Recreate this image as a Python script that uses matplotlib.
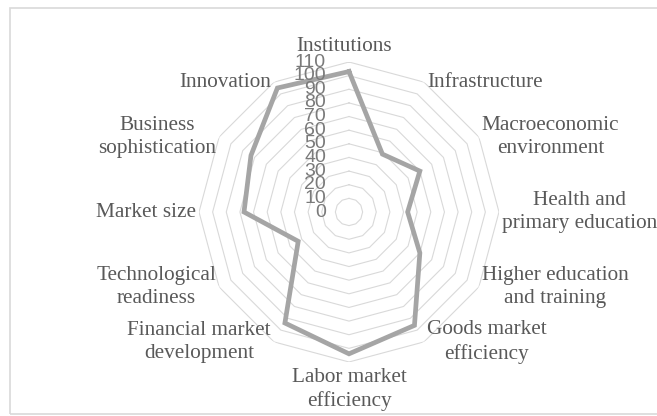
import numpy as np
import matplotlib
matplotlib.use("Agg")
import matplotlib.pyplot as plt
from matplotlib.patches import Rectangle

categories = ["Institutions", "Infrastructure", "Macroeconomic\nenvironment",
              "Health and\nprimary education", "Higher education\nand training",
              "Goods market\nefficiency", "Labor market\nefficiency",
              "Financial market\ndevelopment", "Technological\nreadiness",
              "Market size", "Business\nsophistication", "Innovation"]
values = [103, 49, 60, 43, 60, 96, 104, 94, 43, 77, 83, 105]
r_ticks = [0, 10, 20, 30, 40, 50, 60, 70, 80, 90, 100, 110]

W, H = 657, 416
fig = plt.figure(figsize=(W / 100, H / 100), dpi=100)
fig.patch.set_facecolor("white")

# outer chart-area border
fig.patches.append(Rectangle((10 / W, 2 / H), 700 / W, 406 / H, transform=fig.transFigure,
                             fill=False, edgecolor="#d9d9d9", linewidth=1.2, zorder=0))

cx, cy, R = 349, H - 212, 150
ax = fig.add_axes([(cx - R) / W, (cy - R) / H, 2 * R / W, 2 * R / H], projection="polar")
ax.set_theta_zero_location("N")
ax.set_theta_direction(-1)
ax.set_ylim(0, r_ticks[-1])
ax.grid(False)
ax.set_xticks([])
ax.set_yticks([])
ax.spines["polar"].set_visible(False)
ax.patch.set_alpha(0)

n = len(categories)
theta = np.arange(n) * 2 * np.pi / n
theta_c = np.append(theta, theta[0])

for r in r_ticks[1:]:
    ax.plot(theta_c, [r] * (n + 1), color="#d9d9d9", linewidth=0.8, zorder=1)

ax.plot(theta_c, values + values[:1], color="#a5a5a5", linewidth=3.4,
        solid_joinstyle="miter", zorder=3)

for r in r_ticks:
    ax.annotate(str(r), xy=(0, r), xytext=(-23, 0), textcoords="offset pixels",
                ha="right", va="center", fontsize=14, family="Liberation Sans",
                color="#7a7a7a", zorder=4)

for t, lab in zip(theta, categories):
    s, c = np.sin(t), np.cos(t)
    if abs(s) < 1e-6:
        ha = "center"
        va = "bottom" if c > 0 else "top"
        off = (-5, 6) if c > 0 else (0, -6)
    else:
        ha = "left" if s > 0 else "right"
        va = "center"
        off = (3 * np.sign(s), 0)
    ax.annotate(lab, xy=(t, r_ticks[-1]), xytext=off, textcoords="offset pixels",
                ha=ha, va=va, multialignment="center", fontsize=15.3,
                family="Liberation Serif", color="#595959", linespacing=1.3)

fig.savefig("out.png", dpi=100)
